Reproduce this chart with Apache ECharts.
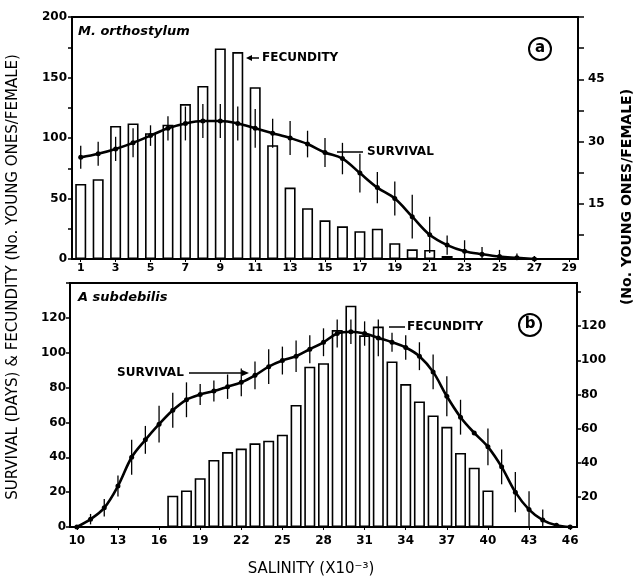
<!DOCTYPE html>
<html><head><meta charset="utf-8">
<script src="https://cdn.jsdelivr.net/npm/echarts@6/dist/echarts.min.js"></script>
<style>html,body{margin:0;padding:0;background:#fff}#c{width:640px;height:580px}</style>
</head><body><div id="c"></div>
<script>
// ---- Panel (a): M. orthostylum ----
const topSalinity = ['1','2','3','4','5','6','7','8','9','10','11','12','13','14','15','16','17','18','19','20','21','22','23','24','25','26','27','28','29'];
const topFecundity = [62, 66, 110, 112, 104, 111, 128, 143, 174, 171, 142, 94, 59, 42, 32, 27, 23, 25, 13, 8, 7.5, 2.5, null, null, null, null, null, null, null];
const topSurvival = [84, 87, 91, 96, 102, 108, 112, 114, 114, 112, 108, 104, 100, 95, 88, 83, 71, 59, 50, 35, 20, 11.5, 6.5, 4, 2, 1, 0, null, null];
const topSurvivalErr = [9.5, 10, 10, 12, 8.5, 10, 14, 14, 14, 14, 16, 12, 14, 11, 12, 13, 16, 13, 14, 18, 15, 8, 9, 6, 5.5, 3.5, 2.5, null, null];
const topLeftTicks = [0, 50, 100, 150, 200];
const topRightTicks = [15, 30, 45];

// ---- Panel (b): A. subdebilis ----
const bottomSalinity = ['10','11','12','13','14','15','16','17','18','19','20','21','22','23','24','25','26','27','28','29','30','31','32','33','34','35','36','37','38','39','40','41','42','43','44','45','46'];
const bottomFecundity = [null, null, null, null, null, null, null, 18, 21, 28, 38.5, 43, 45, 48, 49.5, 53, 70, 92, 94, 113, 127, 110, 115, 95, 82, 72, 64, 57.5, 42.5, 34, 21, null, null, null, null, null, null];
const bottomSurvival = [0, 4.5, 11, 23.5, 40, 50, 59, 67, 73, 76, 78, 80.5, 83, 87, 92, 95.5, 98, 102, 106, 111, 112, 111, 108.5, 106, 103, 98, 89, 75, 63, 54, 46, 34.5, 20, 10, 4, 1, 0];
const bottomSurvivalErr = [null, 3, 5, 6, 10, 8, 10.5, 10, 10, 6, 6, 7, 8, 8, 10, 8, 9, 8, 8, 8, 7, 7, 10.5, 5.5, 7, 8, 10, 11.5, 10, null, 10.5, 10, 11.5, 10.5, 6, null, null];
const bottomLeftTicks = [0, 20, 40, 60, 80, 100, 120];
const bottomRightTicks = [20, 40, 60, 80, 100, 120];

const FF = '"DejaVu Sans", sans-serif';

function errData(vals, errs) {
  const out = [];
  vals.forEach((v, i) => { if (v != null && errs[i] != null) out.push([i, v - errs[i], v + errs[i]]); });
  return out;
}
function renderErr(params, api) {
  const x = api.value(0);
  const lo = api.coord([x, api.value(1)]);
  const hi = api.coord([x, api.value(2)]);
  return { type: 'line', shape: { x1: lo[0], y1: lo[1], x2: hi[0], y2: hi[1] },
           style: { stroke: '#000', lineWidth: 1.3 } };
}
const lbl = (extra) => Object.assign({ color: '#000', fontFamily: FF, fontWeight: 'bold', fontSize: 12 }, extra);
const blk = { color: '#000', width: 2 };

const chart = echarts.init(document.getElementById('c'), null, { renderer: 'canvas' });
chart.setOption({
  animation: false,
  backgroundColor: '#fff',
  grid: [
    { left: 72, right: 62, top: 17, height: 242, show: true, borderColor: '#000', borderWidth: 2 },
    { left: 72, right: 62, top: 17, height: 218 },
    { left: 70, right: 63, top: 283, height: 244, show: true, borderColor: '#000', borderWidth: 2 },
    { left: 70, right: 63, top: 292, height: 205 }
  ],
  xAxis: [
    { gridIndex: 0, type: 'category', data: topSalinity, boundaryGap: true,
      axisLine: { lineStyle: blk }, axisTick: { show: true, alignWithLabel: true, interval: 1, length: 3, lineStyle: { color: '#000' } },
      axisLabel: lbl({ interval: 1, margin: 4, fontSize: 11 }), splitLine: { show: false } },
    { gridIndex: 1, type: 'value', min: 1, max: 2, show: false },
    { gridIndex: 2, type: 'category', data: bottomSalinity, boundaryGap: true,
      axisLine: { lineStyle: blk }, axisTick: { show: true, alignWithLabel: true, interval: 2, length: 3, lineStyle: { color: '#000' } },
      axisLabel: lbl({ interval: 2, margin: 8, fontSize: 12 }), splitLine: { show: false } },
    { gridIndex: 3, type: 'value', min: 1, max: 2, show: false }
  ],
  yAxis: [
    { gridIndex: 0, type: 'value', min: 0, max: 200, interval: 50,
      axisLine: { show: true, onZero: false, lineStyle: blk }, axisTick: { show: true, length: 4, lineStyle: { color: '#000', width: 1.5 } },
      minorTick: { show: true, splitNumber: 2, length: 4, lineStyle: { color: '#000', width: 1.5 } },
      axisLabel: lbl({ margin: 5, formatter: v => topLeftTicks.includes(v) ? String(v) : '' }), splitLine: { show: false } },
    { gridIndex: 1, type: 'value', position: 'right', min: 7.5, max: 60, interval: 7.5,
      axisLine: { show: false, onZero: false }, axisTick: { show: true, length: 6, lineStyle: { color: '#000', width: 1.5 } },
      axisLabel: lbl({ margin: 10, formatter: v => topRightTicks.includes(v) ? String(v) : '' }), splitLine: { show: false } },
    { gridIndex: 2, type: 'value', min: 0, max: 140, interval: 20,
      axisLine: { show: true, onZero: false, lineStyle: blk }, axisTick: { show: true, length: 4, lineStyle: { color: '#000', width: 1.5 } },
      axisLabel: lbl({ margin: 4, formatter: v => bottomLeftTicks.includes(v) ? String(v) : '' }), splitLine: { show: false } },
    { gridIndex: 3, type: 'value', position: 'right', min: 20, max: 140, interval: 20,
      axisLine: { show: false, onZero: false }, axisTick: { show: true, length: 4, lineStyle: { color: '#000', width: 1.5 } },
      axisLabel: lbl({ margin: 4, formatter: v => bottomRightTicks.includes(v) ? String(v) : '' }), splitLine: { show: false } }
  ],
  series: [
    { name: 'Fecundity (a)', type: 'bar', xAxisIndex: 0, yAxisIndex: 0, data: topFecundity, barWidth: 11,
      itemStyle: { color: '#fff', borderColor: '#000', borderWidth: 1.6 }, z: 2 },
    { name: 'Survival error (a)', type: 'custom', xAxisIndex: 0, yAxisIndex: 0, data: errData(topSurvival, topSurvivalErr),
      renderItem: renderErr, encode: { x: 0, y: [1, 2] }, clip: true, z: 3 },
    { name: 'Survival (a)', type: 'line', xAxisIndex: 0, yAxisIndex: 0, data: topSurvival, smooth: 0.35,
      symbol: 'circle', symbolSize: 5, itemStyle: { color: '#000' }, lineStyle: { color: '#000', width: 2.6 }, z: 4 },
    { name: 'Fecundity (b)', type: 'bar', xAxisIndex: 2, yAxisIndex: 2, data: bottomFecundity, barWidth: 11,
      itemStyle: { color: '#fff', borderColor: '#000', borderWidth: 1.6 }, z: 2 },
    { name: 'Survival error (b)', type: 'custom', xAxisIndex: 2, yAxisIndex: 2, data: errData(bottomSurvival, bottomSurvivalErr),
      renderItem: renderErr, encode: { x: 0, y: [1, 2] }, clip: true, z: 3 },
    { name: 'Survival (b)', type: 'line', xAxisIndex: 2, yAxisIndex: 2, data: bottomSurvival, smooth: 0.35,
      symbol: 'circle', symbolSize: 5, itemStyle: { color: '#000' }, lineStyle: { color: '#000', width: 2.6 }, z: 4 }
  ],
  graphic: [
    { type: 'text', x: 13, y: 277, rotation: Math.PI / 2,
      style: { text: 'SURVIVAL (DAYS) & FECUNDITY (No. YOUNG ONES/FEMALE)', font: '15px ' + FF, fill: '#000', align: 'center', verticalAlign: 'middle' } },
    { type: 'text', x: 627, y: 197, rotation: Math.PI / 2,
      style: { text: '(No. YOUNG ONES/FEMALE)', font: 'bold 14px ' + FF, fill: '#000', align: 'center', verticalAlign: 'middle' } },
    { type: 'text', x: 311, y: 569,
      style: { text: 'SALINITY (X10⁻³)', font: '15px ' + FF, fill: '#000', align: 'center', verticalAlign: 'middle' } },
    { type: 'text', x: 78, y: 32,
      style: { text: 'M. orthostylum', font: 'italic bold 13px ' + FF, fill: '#000', align: 'left', verticalAlign: 'middle' } },
    { type: 'text', x: 78, y: 298,
      style: { text: 'A subdebilis', font: 'italic bold 13px ' + FF, fill: '#000', align: 'left', verticalAlign: 'middle' } },
    { type: 'circle', shape: { cx: 540, cy: 49, r: 11 }, style: { fill: '#fff', stroke: '#000', lineWidth: 2 }, z: 10 },
    { type: 'text', x: 540, y: 48, z: 11, style: { text: 'a', font: 'bold 15px ' + FF, fill: '#000', align: 'center', verticalAlign: 'middle' } },
    { type: 'circle', shape: { cx: 530, cy: 325, r: 11 }, style: { fill: '#fff', stroke: '#000', lineWidth: 2 }, z: 10 },
    { type: 'text', x: 530, y: 324, z: 11, style: { text: 'b', font: 'bold 15px ' + FF, fill: '#000', align: 'center', verticalAlign: 'middle' } },
    // annotations (a)
    { type: 'line', shape: { x1: 259, y1: 58, x2: 248, y2: 58 }, style: { stroke: '#000', lineWidth: 1.5 }, z: 10 },
    { type: 'polygon', shape: { points: [[246, 58], [252, 55], [252, 61]] }, style: { fill: '#000' }, z: 10 },
    { type: 'text', x: 262, y: 58, z: 10, style: { text: 'FECUNDITY', font: 'bold 12px ' + FF, fill: '#000', align: 'left', verticalAlign: 'middle' } },
    { type: 'line', shape: { x1: 363, y1: 152, x2: 337, y2: 152 }, style: { stroke: '#000', lineWidth: 1.5 }, z: 10 },
    { type: 'text', x: 367, y: 152, z: 10, style: { text: 'SURVIVAL', font: 'bold 12px ' + FF, fill: '#000', align: 'left', verticalAlign: 'middle' } },
    // annotations (b)
    { type: 'text', x: 117, y: 373, z: 10, style: { text: 'SURVIVAL', font: 'bold 12px ' + FF, fill: '#000', align: 'left', verticalAlign: 'middle' } },
    { type: 'line', shape: { x1: 189, y1: 373, x2: 243, y2: 373 }, style: { stroke: '#000', lineWidth: 1.5 }, z: 10 },
    { type: 'polygon', shape: { points: [[249, 373], [242, 370], [242, 376]] }, style: { fill: '#000' }, z: 10 },
    { type: 'line', shape: { x1: 389, y1: 327, x2: 405, y2: 327 }, style: { stroke: '#000', lineWidth: 1.5 }, z: 10 },
    { type: 'text', x: 407, y: 327, z: 10, style: { text: 'FECUNDITY', font: 'bold 12px ' + FF, fill: '#000', align: 'left', verticalAlign: 'middle' } }
  ]
});
</script>
</body></html>
